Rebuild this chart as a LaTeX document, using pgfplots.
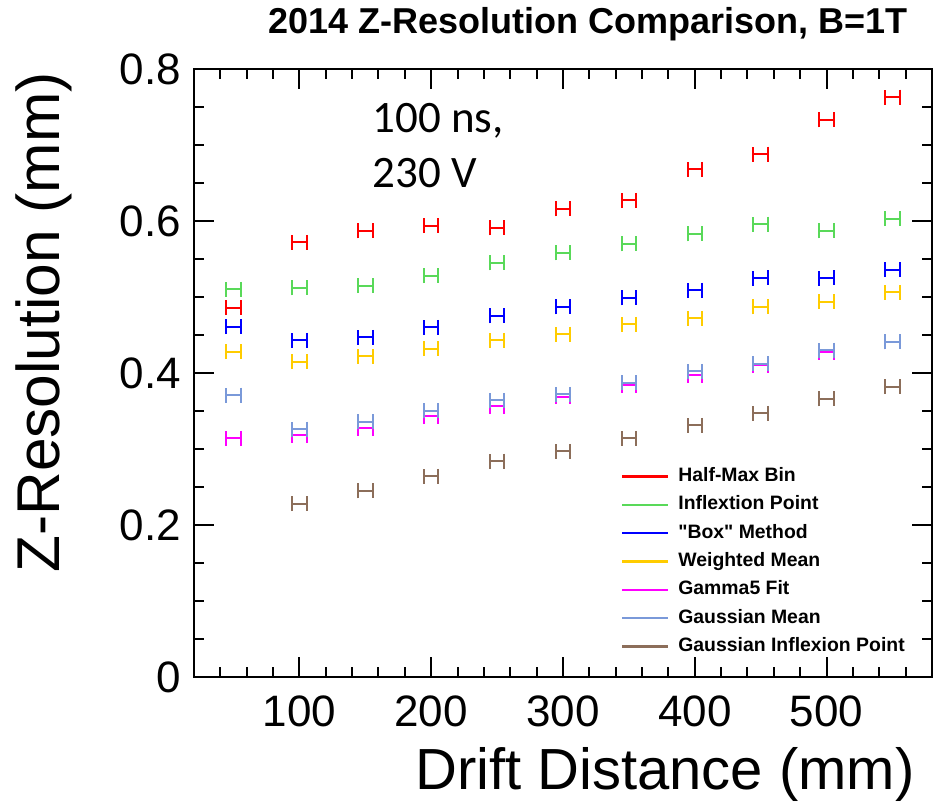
\documentclass[border=0pt]{standalone}
\usepackage{pgfplots}
\usepackage{pgfplotstable}
\pgfplotsset{compat=1.18}
\usepackage{fontspec}
\setmainfont{Liberation Sans}
\newfontfamily\legfont{Liberation Sans}
\newfontfamily\carlito{Carlito}

\definecolor{cred}{RGB}{255,0,0}
\definecolor{cgreen}{RGB}{89,217,89}
\definecolor{cblue}{RGB}{0,0,255}
\definecolor{cyellow}{RGB}{255,204,0}
\definecolor{cmag}{RGB}{255,0,255}
\definecolor{clblue}{RGB}{122,153,217}
\definecolor{cbrown}{RGB}{140,110,90}

\pgfplotstableread{
x   hm    ip    box   wm    gf    gm    gip
50  0.486 0.510 0.461 0.428 0.314 0.371 nan
100 0.572 0.512 0.443 0.415 0.318 0.326 0.228
150 0.587 0.515 0.447 0.422 0.327 0.336 0.245
200 0.594 0.528 0.460 0.432 0.343 0.350 0.264
250 0.591 0.545 0.475 0.443 0.356 0.364 0.284
300 0.616 0.558 0.487 0.451 0.369 0.372 0.297
350 0.627 0.570 0.499 0.464 0.384 0.387 0.314
400 0.668 0.583 0.509 0.472 0.397 0.402 0.331
450 0.688 0.596 0.525 0.487 0.410 0.412 0.347
500 0.733 0.587 0.525 0.494 0.427 0.430 0.366
550 0.763 0.603 0.536 0.506 0.441 0.441 0.382
}\datatable

\pgfplotsset{
  ebar/.style={draw=none, mark=none, forget plot,
    error bars/.cd, x dir=both, x fixed=5.5, error mark=|,
    error bar style={draw=#1, line width=1pt},
    error mark options={draw=#1, line width=1pt, mark size=3.75pt}}
}

\begin{document}
\begin{tikzpicture}
\useasboundingbox (0,0) rectangle (467pt,404pt);
\begin{axis}[
  at={(97pt,65.5pt)}, anchor=south west,
  scale only axis, width=369pt, height=304pt,
  xmin=20, xmax=580, ymin=0, ymax=0.8,
  xtick={100,200,300,400,500},
  minor xtick={20,40,...,580},
  ytick={0,0.2,0.4,0.6,0.8},
  minor ytick={0,0.05,...,0.8},
  yticklabels={0,0.2,0.4,0.6,0.8},
  major tick length=10pt, minor tick length=5pt,
  every tick/.style={black, line width=1pt},
  axis line style={line width=1.2pt},
  tick label style={font=\fontsize{22}{24}\selectfont},
  /pgf/number format/assume math mode=true,
  xticklabel style={yshift=-6pt},
  yticklabel style={xshift=-3pt},
  xlabel={Drift Distance (mm)},
  ylabel={Z-Resolution (mm)},
  label style={inner sep=0pt},
  xlabel style={font=\fontsize{29}{32}\selectfont, at={([xshift=-8.5pt,yshift=-56.5pt]axis description cs:1,0)}, anchor=base east},
  ylabel style={font=\fontsize{30.2}{32}\selectfont, at={([xshift=-67pt,yshift=-1.5pt]axis description cs:0,1)}, anchor=base east},
  legend image code/.code={\draw[#1] (0pt,0pt) -- (23pt,0pt);},
  legend cell align=left,
  legend style={draw=none, fill=none, at={(rel axis cs:0.578,0.345)}, anchor=north west,
    font=\legfont\bfseries\fontsize{9.7}{10}\selectfont, row sep=5.15pt, column sep=4.5pt,
    inner sep=0pt, nodes={inner sep=0pt, text height=7pt, text depth=2pt}},
]
\addplot[ebar=cred] table[x=x, y=hm] {\datatable};
\addplot[ebar=cgreen] table[x=x, y=ip] {\datatable};
\addplot[ebar=cblue] table[x=x, y=box] {\datatable};
\addplot[ebar=cyellow] table[x=x, y=wm] {\datatable};
\addplot[ebar=cmag] table[x=x, y=gf] {\datatable};
\addplot[ebar=clblue] table[x=x, y=gm] {\datatable};
\addplot[ebar=cbrown] table[x=x, y=gip] {\datatable};
\addlegendimage{cred, line width=1.2pt}\addlegendentry{Half-Max Bin}
\addlegendimage{cgreen, line width=1.2pt}\addlegendentry{Inflextion Point}
\addlegendimage{cblue, line width=1.2pt}\addlegendentry{"Box" Method}
\addlegendimage{cyellow, line width=1.2pt}\addlegendentry{Weighted Mean}
\addlegendimage{cmag, line width=1.2pt}\addlegendentry{Gamma5 Fit}
\addlegendimage{clblue, line width=1.2pt}\addlegendentry{Gaussian Mean}
\addlegendimage{cbrown, line width=1.2pt}\addlegendentry{Gaussian Inflexion Point}
\end{axis}
\node[anchor=base, inner sep=0pt, font=\bfseries\fontsize{18}{20}\selectfont] at (294pt,387pt) {2014 Z-Resolution Comparison, B=1T};
\node[anchor=base west, inner sep=0pt, font=\carlito\fontsize{22.5}{27}\selectfont] at (186pt,337.5pt) {100 ns,};
\node[anchor=base west, inner sep=0pt, font=\carlito\fontsize{22.5}{27}\selectfont] at (186pt,310pt) {230 V};
\end{tikzpicture}
\end{document}
